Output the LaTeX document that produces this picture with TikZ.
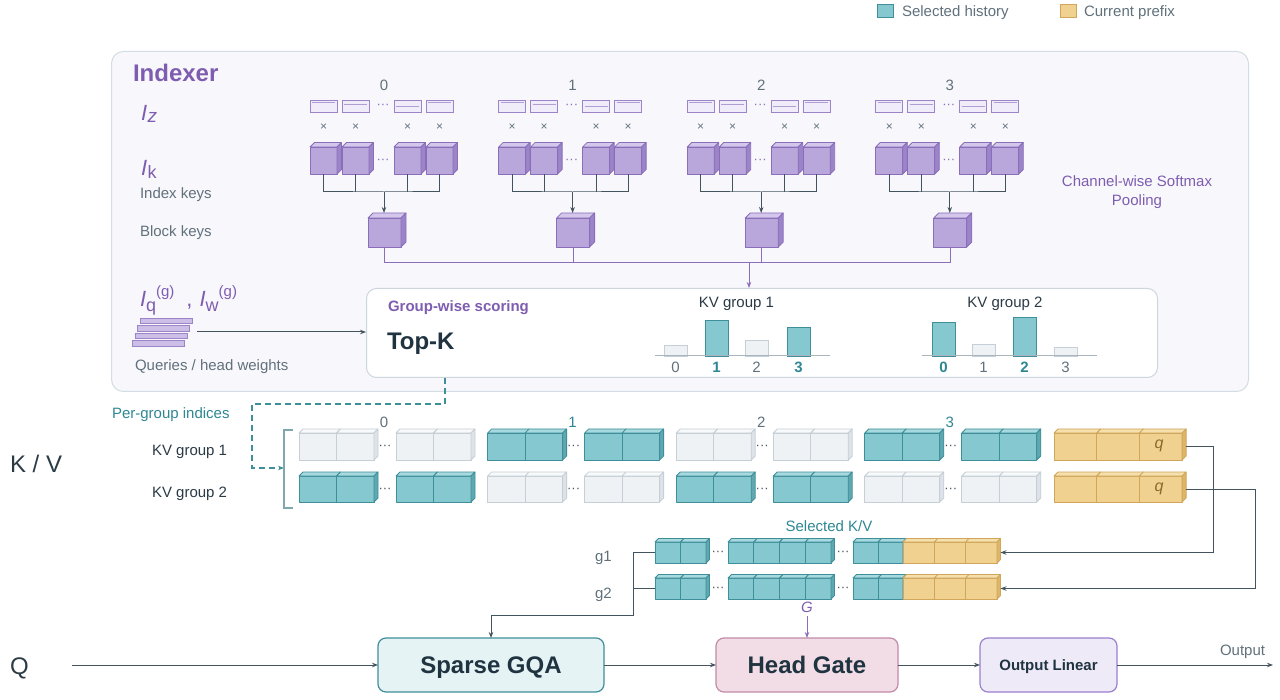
\documentclass[tikz,border=0pt]{standalone}
\usepackage{fontspec}
\setmainfont{Liberation Sans}
\usetikzlibrary{arrows.meta,calc}
\definecolor{tealF}{HTML}{86C8D0}
\definecolor{tealT}{HTML}{A8D9DF}
\definecolor{tealS}{HTML}{5FA8B1}
\definecolor{tealB}{HTML}{3E8F99}
\definecolor{grayF}{HTML}{EEF2F5}
\definecolor{grayT}{HTML}{F7F9FA}
\definecolor{grayS}{HTML}{DDE3E8}
\definecolor{grayB}{HTML}{C6CFD6}
\definecolor{yelF}{HTML}{F0D18F}
\definecolor{yelT}{HTML}{F5DFAC}
\definecolor{yelS}{HTML}{DDB667}
\definecolor{yelB}{HTML}{CFA65A}
\definecolor{purF}{HTML}{B9A6DB}
\definecolor{purT}{HTML}{D3C7EB}
\definecolor{purS}{HTML}{9C84C8}
\definecolor{purB}{HTML}{8A6EBA}
\definecolor{barF}{HTML}{F1ECF9}
\definecolor{qbF}{HTML}{CDBEE8}
\definecolor{ink}{HTML}{1F3340}
\definecolor{txt}{HTML}{2B3B46}
\definecolor{mute}{HTML}{61717C}
\definecolor{accP}{HTML}{7E5DB0}
\definecolor{accT}{HTML}{2F8793}
\definecolor{lineD}{HTML}{44545F}
\definecolor{panelF}{HTML}{F8F8FC}
\definecolor{panelB}{HTML}{D3DDE3}
\definecolor{boxB}{HTML}{CCD6DC}
\definecolor{brkC}{HTML}{7EA7AE}
\definecolor{sgF}{HTML}{E6F3F5}
\definecolor{hgF}{HTML}{F2DDE6}
\definecolor{hgB}{HTML}{C28BA8}
\definecolor{olF}{HTML}{EFEAF8}
\definecolor{olB}{HTML}{9C80CF}
\definecolor{qC}{HTML}{8A6A2E}
\definecolor{axisC}{HTML}{A9B6BF}
\newcommand\fsz[2]{\fontsize{#1}{#2}\selectfont}
% cube: name, scheme, xleft, ytop, w, h, d
\newcommand\cubeN[7]{%
  \node[draw=#2B, fill=#2F, cubeline, minimum width=#5pt, minimum height=#6pt, anchor=north west] (#1) at ({#3},{#4}) {};
  \filldraw[draw=#2B, fill=#2T, cubeline] (#1.north west) -- ++(#7,-#7) -- ++(#5,0) -- (#1.north east) -- cycle;
  \filldraw[draw=#2B, fill=#2S, cubeline] (#1.north east) -- ++(#7,-#7) -- ++(0,#6) -- (#1.south east) -- cycle;
}
% row of cells: prefix, scheme, x, ytop, w, h, d, n
\newcommand\cellrow[8]{%
  \foreach \ii in {1,...,#8}{%
    \node[draw=#2B, fill=#2F, cubeline, minimum width=#5pt, minimum height=#6pt, anchor=north west] (#1\ii) at ({#3+(\ii-1)*#5},{#4}) {};
    \filldraw[draw=#2B, fill=#2T, cubeline] (#1\ii.north west) -- ++(#7,-#7) -- ++(#5,0) -- (#1\ii.north east) -- cycle;
  }
  \filldraw[draw=#2B, fill=#2S, cubeline] (#1#8.north east) -- ++(#7,-#7) -- ++(0,#6) -- (#1#8.south east) -- cycle;
}
\tikzset{
  cubeline/.style={line width=0.8pt, inner sep=0pt, outer sep=0pt, line join=round},
  lbl/.style={inner sep=0pt, outer sep=0pt},
  cn/.style={draw=lineD, line width=1pt},
  arr/.style={draw=lineD, line width=1pt, -{Stealth[length=6pt,width=4.5pt]}},
  pl/.style={draw=purB, line width=1pt},
  parr/.style={draw=purB, line width=1pt, -{Stealth[length=6pt,width=4.5pt]}},
  dsh/.style={draw=tealB, line width=1.2pt, dash pattern=on 6pt off 4pt, -{Stealth[length=6pt,width=4.5pt]}},
  box/.style={rounded corners=8pt, line width=1.2pt, inner sep=0pt, outer sep=0pt, anchor=north west},
  tbar/.style={line width=0.9pt, inner sep=0pt, outer sep=0pt, anchor=south west, minimum width=23pt},
}
\begin{document}
\begin{tikzpicture}[x=1pt,y=-1pt,font={\fsz{15}{18}}]
\useasboundingbox (0,0) rectangle (1280,700);
\fill[white] (0,0) rectangle (1280,700);

% legend
\node[draw=tealB, fill=tealF, line width=0.8pt, inner sep=0pt, minimum width=16pt, minimum height=13pt, anchor=north west] (lg1) at (877,4) {};
\node[lbl, anchor=base west, text=mute] (lg1t) at (902,17) {Selected history};
\node[draw=yelB, fill=yelF, line width=0.8pt, inner sep=0pt, minimum width=16pt, minimum height=13pt, anchor=north west] (lg2) at (1060,4) {};
\node[lbl, anchor=base west, text=mute] (lg2t) at (1084,17) {Current prefix};

% indexer panel
\node[draw=panelB, fill=panelF, rounded corners=12pt, line width=1pt, inner sep=0pt, minimum width=1137pt, minimum height=340pt, anchor=north west] (panel) at (111,51) {};
\node[lbl, anchor=base west, text=accP, font={\fsz{24}{28}\bfseries}] (title) at (133,82) {Indexer};
\node[lbl, anchor=base west, text=accP] (iz) at (141,121) {\fsz{22}{26}\itshape I\kern0.5pt\raisebox{-2pt}{\fsz{19}{22}z}};
\node[lbl, anchor=base west, text=accP] (ik) at (141,176) {\fsz{22}{26}\itshape I\upshape\kern0.5pt\raisebox{-3pt}{\fsz{18}{22}k}};
\node[lbl, anchor=base west, text=mute] (ikt) at (140,199) {Index keys};
\node[lbl, anchor=base west, text=mute] (bkt) at (140,237) {Block keys};
\node[lbl, anchor=base west, text=accP] (iqw) at (140,307) {\fsz{22}{26}\itshape I\upshape\raisebox{-5pt}{\fsz{18}{22}q}\raisebox{10pt}{\fsz{15}{18}(g)}\hspace{12pt},\hspace{7pt}\itshape I\upshape\raisebox{-5pt}{\fsz{18}{22}w}\raisebox{10pt}{\fsz{15}{18}(g)}};
\node[lbl, anchor=base west, text=mute] (qhw) at (135,371) {Queries / head weights};
\node[lbl, anchor=base, text=accP] (cwp1) at (1137,187) {Channel-wise Softmax};
\node[lbl, anchor=base, text=accP] (cwp2) at (1137,206) {Pooling};

% query stack
\foreach \i/\xq/\yq in {1/140/318, 2/137/325.5, 3/135/333, 4/132/340.5}{
  \node[draw=purS, fill=qbF, line width=0.8pt, inner sep=0pt, minimum width=52pt, minimum height=5.5pt, anchor=north west] (hq\i) at (\xq,\yq) {};
}

% cube groups
\coordinate (hl) at (0,263);
\foreach \g in {0,...,3}{
  \pgfmathsetmacro\xc{384+188.6*\g}
  \node[lbl, anchor=base, text=mute] (gi\g) at (\xc,91) {\g};
  \foreach \i/\dx/\so in {1/-74/2.5, 2/-42/4.5, 3/10/6.5, 4/42/2.5}{
    \node[draw=purS, fill=barF, line width=0.8pt, inner sep=0pt, outer sep=0pt, minimum width=27pt, minimum height=12pt, anchor=north west] (z\g\i) at ({\xc+(\dx)},100) {};
    \draw[purS!80, line width=1.2pt] ($(z\g\i.north west)+(2,\so)$) -- ($(z\g\i.north east)+(-2,\so)$);
    \node[lbl, text=mute, font={\fsz{12}{14}}] (x\g\i) at ({\xc+(\dx)+13.5},127) {×};
    \cubeN{k\g\i}{pur}{\xc+(\dx)}{147}{27}{27}{4.5}
  }
  \node[lbl, text=purB, font={\fsz{13}{14}}] (dz\g) at ({\xc-1},106) {···};
  \node[lbl, text=purB, font={\fsz{13}{14}}] (dk\g) at ({\xc-1},161) {···};
  \coordinate (m\g) at (\xc,192);
  \draw[cn] (k\g1.south) |- (m\g) -| (k\g4.south);
  \draw[cn] (k\g2.south) -- (k\g2.south |- m\g);
  \draw[cn] (k\g3.south) -- (k\g3.south |- m\g);
  \cubeN{b\g}{pur}{\xc-16}{218}{33}{29}{5}
  \draw[arr] (m\g) -- ($(m\g |- b\g.north)+(0,-5)$);
  \draw[pl] (b\g.south) -- (b\g.south |- hl);
}
\draw[pl] (b0.south |- hl) -- (b3.south |- hl);

% Top-K box
\node[draw=boxB, fill=white, rounded corners=10pt, line width=1pt, inner sep=0pt, minimum width=791pt, minimum height=89pt, anchor=north west] (topk) at (366,288) {};
\coordinate (tkin) at (749,263);
\draw[parr] (tkin) -- (tkin |- topk.north);
\coordinate (qsrc) at (197,332);
\draw[arr] (qsrc) -- (qsrc -| topk.west);
\node[lbl, anchor=base west, text=accP, font={\fsz{15}{18}\bfseries}] (gws) at (388,312) {Group-wise scoring};
\node[lbl, anchor=base west, text=ink, font={\fsz{24}{28}\bfseries}] (tk) at (387,350) {Top-K};

% charts
\node[lbl, anchor=base, text=txt] (c1t) at (736.5,308) {KV group 1};
\node[lbl, anchor=base, text=txt] (c2t) at (1005,308) {KV group 2};
\foreach \n/\xb/\hb/\sc in {a0/664/11/gray, a1/705/36/teal, a2/745/16/gray, a3/787/29/teal,
                          b0/932/34/teal, b1/972/12/gray, b2/1013/39/teal, b3/1054/9/gray}{
  \node[tbar, draw=\sc B, fill=\sc F, minimum height=\hb pt] (bar\n) at (\xb,356) {};
}
\draw[axisC, line width=1pt] (655,356) -- (830,356);
\draw[axisC, line width=1pt] (922,356) -- (1097,356);
\foreach \n/\xl/\lt/\cl in {a0/675.5/0/mute, a2/756.5/2/mute, b1/983.5/1/mute, b3/1065.5/3/mute}{
  \node[lbl, anchor=base, text=\cl] (lab\n) at (\xl,373) {\lt};
}
\foreach \n/\xl/\lt in {a1/716.5/1, a3/798.5/3, b0/943.5/0, b2/1024.5/2}{
  \node[lbl, anchor=base, text=accT, font={\fsz{15}{18}\bfseries}] (lab\n) at (\xl,373) {\lt};
}

% per-group indices
\node[lbl, anchor=base west, text=accT] (pgi) at (112,419) {Per-group indices};
\coordinate (dz) at (445,404);
\coordinate (dl) at (252,468);
\coordinate (brk) at (284,468);
\draw[dsh] (dz |- topk.south) -- (dz) -| (dl) -- (brk);
\draw[brkC, line width=1.2pt] (293,430) -- (284,430) -- (284,508) -- (293,508);

% K / V rows
\node[lbl, anchor=base west, text=txt, font={\fsz{24}{28}}] (kvlab) at (10,472) {K / V};
\node[lbl, anchor=base west, text=txt] (r1lab) at (152,455) {KV group 1};
\node[lbl, anchor=base west, text=txt] (r2lab) at (152,497) {KV group 2};
\foreach \g/\ca/\cb/\lc in {0/gray/teal/mute, 1/teal/gray/accT, 2/gray/teal/mute, 3/teal/gray/accT}{
  \pgfmathsetmacro\xz{299+188.6*\g}
  \cellrow{pa\g}{\ca}{\xz}{433}{37.5}{27}{4}{2}
  \cellrow{pb\g}{\ca}{\xz+97}{433}{37.5}{27}{4}{2}
  \cellrow{qa\g}{\cb}{\xz}{476}{37.5}{26}{4}{2}
  \cellrow{qb\g}{\cb}{\xz+97}{476}{37.5}{26}{4}{2}
  \node[lbl, anchor=base, text=\lc] (ix\g) at ({\xz+85},428) {\g};
  \node[lbl, text=lineD, font={\fsz{13}{14}}] (dp\g) at ({\xz+86},447) {···};
  \node[lbl, text=lineD, font={\fsz{13}{14}}] (dq\g) at ({\xz+86},490) {···};
}
\cellrow{ya}{yel}{1054}{433}{42.7}{27}{4}{3}
\cellrow{yb}{yel}{1054}{476}{42.7}{26}{4}{3}
\node[lbl, text=qC, font={\fsz{16}{18}\itshape}] (qa) at (1159,446) {q};
\node[lbl, text=qC, font={\fsz{16}{18}\itshape}] (qb) at (1159,489) {q};

% selected K/V
\node[lbl, anchor=base, text=accT] (selt) at (829,531) {Selected K/V};
\node[lbl, anchor=base west, text=mute] (g1l) at (595,561) {g1};
\node[lbl, anchor=base west, text=mute] (g2l) at (595,598) {g2};
\foreach \r/\yr in {1/542, 2/578}{
  \cellrow{sa\r}{teal}{655}{\yr}{25.5}{21}{3.5}{2}
  \cellrow{sb\r}{teal}{728}{\yr}{25.75}{21}{3.5}{4}
  \cellrow{sc\r}{teal}{853}{\yr}{25}{21}{3.5}{2}
  \cellrow{sd\r}{yel}{903}{\yr}{31.33}{21}{3.5}{3}
  \node[lbl, text=lineD, font={\fsz{13}{14}}] (ds\r) at (718,{\yr+11}) {···};
  \node[lbl, text=lineD, font={\fsz{13}{14}}] (dt\r) at (843,{\yr+11}) {···};
}

% prefix connectors
\coordinate (xr1) at (1213,0);
\coordinate (xr2) at (1255,0);
\draw[arr] ([xshift=4pt]ya3.east) -| (xr1 |- sd13.east) -- ([xshift=3.5pt]sd13.east);
\draw[arr] ([xshift=4pt]yb3.east) -| (xr2 |- sd23.east) -- ([xshift=3.5pt]sd23.east);

% bottom pipeline
\node[box, draw=tealB, fill=sgF, minimum width=226pt, minimum height=54pt, text height=17pt, text depth=0pt, text=ink, font={\fsz{24}{28}\bfseries}] (sgqa) at (378,638) {Sparse GQA};
\node[box, draw=hgB, fill=hgF, minimum width=182pt, minimum height=54pt, text height=17pt, text depth=0pt, text=ink, font={\fsz{24}{28}\bfseries}] (hg) at (716,638) {Head Gate};
\node[box, draw=olB, fill=olF, minimum width=137pt, minimum height=54pt, text height=10.7pt, text depth=0pt, text=ink, font={\fsz{15}{18}\bfseries}] (ol) at (980,638) {Output Linear};

\coordinate (jn) at (633,615);
\draw[arr] (sa11.west) -| (jn) -| (sgqa.north);
\draw[cn] (sa21.west) -- (sa21.west -| jn);

\node[lbl, anchor=base, text=accP, font={\fsz{15}{18}\itshape}] (gl) at (807,612) {G};
\draw[parr] ([yshift=-4pt]gl.base) -- (gl.base |- hg.north);

\node[lbl, anchor=base west, text=txt, font={\fsz{24}{28}}] (qlab) at (10,674) {Q};
\coordinate (qin) at (72,665);
\draw[arr] (qin) -- (sgqa.west);
\draw[arr] (sgqa.east) -- (hg.west);
\draw[arr] (hg.east) -- (ol.west);
\coordinate (oend) at (1273,665);
\draw[arr] (ol.east) -- (oend);
\node[lbl, anchor=base west, text=mute] (outl) at (1220,655) {Output};
\end{tikzpicture}
\end{document}
